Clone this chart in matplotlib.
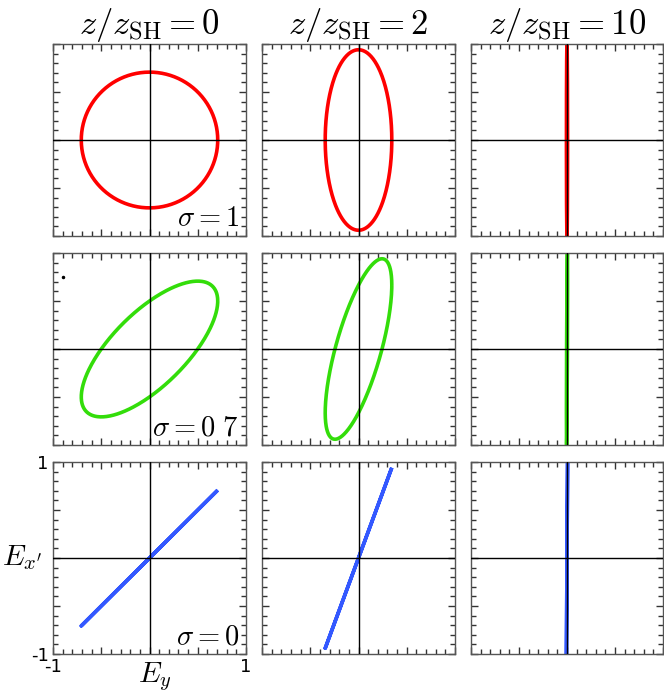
import numpy as np
import matplotlib.pyplot as plt
from matplotlib.ticker import MultipleLocator

plt.rcParams['mathtext.fontset'] = 'cm'

# propagation distance for each column
z_vals = [0, 2, 10]
# amplitudes of E_y and E_x' (per column)
amp_y = [0.707, 0.345, 0.006]
amp_x = [0.707, 0.94, 1.0]
# sigma and phase between components (per row)
sigma_labels = ["1", "0\\ 7", "0"]
phase_deg = [90, 45, 0]
row_colors = ["#ff0000", "#33dd0a", "#3358ff"]

# panel bounds in pixels (left, right) and (top, bottom)
col_px = [(53, 246), (262, 455), (471, 663)]
row_px = [(44, 236), (253, 445), (462, 654)]
W, H = 664, 694

fig = plt.figure(figsize=(W / 100, H / 100), dpi=100)
t = np.linspace(0, 2 * np.pi, 400)

for r in range(3):
    for c in range(3):
        x0, x1 = col_px[c]
        y0, y1 = row_px[r]
        ax = fig.add_axes([x0 / W, 1 - y1 / H, (x1 - x0) / W, (y1 - y0) / H])
        ey = amp_y[c] * np.cos(t)
        ex = amp_x[c] * np.cos(t - np.radians(phase_deg[r]))
        ax.plot(ey, ex, color=row_colors[r], lw=2.6, solid_capstyle='butt', zorder=2)
        ax.axhline(0, color='black', lw=1.0, zorder=3)
        ax.axvline(0, color='black', lw=1.0, zorder=3)
        ax.set_xlim(-1, 1)
        ax.set_ylim(-1, 1)
        if r == 2 and c == 0:
            ax.set_xticks([-1, -0.5, 0, 0.5, 1])
            ax.set_yticks([-1, -0.5, 0, 0.5, 1])
            ax.set_xticklabels(["-1", "", "", "", "1"], fontsize=13)
            ax.set_yticklabels(["-1", "", "", "", "1"], fontsize=13)
        else:
            ax.xaxis.set_major_locator(MultipleLocator(0.5))
            ax.yaxis.set_major_locator(MultipleLocator(0.5))
            ax.set_xticklabels([])
            ax.set_yticklabels([])
        ax.xaxis.set_minor_locator(MultipleLocator(0.1))
        ax.yaxis.set_minor_locator(MultipleLocator(0.1))
        ax.tick_params(which='major', direction='in', top=True, right=True,
                       color='#333333', width=1.0, length=5, pad=3)
        ax.tick_params(which='minor', direction='in', top=True, right=True,
                       color='#333333', width=1.0, length=3.5)
        for s in ax.spines.values():
            s.set_color('#555555')
            s.set_linewidth(1.0)
        if c == 0:
            ax.text(0.965, 0.05, r"$\sigma = %s$" % sigma_labels[r], transform=ax.transAxes,
                    ha='right', va='baseline', fontsize=20.5)
        if r == 1 and c == 0:
            ax.plot([-0.896], [0.75], 'k.', ms=3)
        if r == 0:
            ax.set_title(r"$z/z_{\rm SH} = %d$" % z_vals[c], fontsize=25, pad=4)

fig.text(155 / W, 1 - 677 / H, r"$E_y$", fontsize=21, ha='center', va='center')
fig.text(22 / W, 1 - 558 / H, r"$E_{x'}$", fontsize=21, ha='center', va='center')

fig.savefig("out.png", dpi=100)
